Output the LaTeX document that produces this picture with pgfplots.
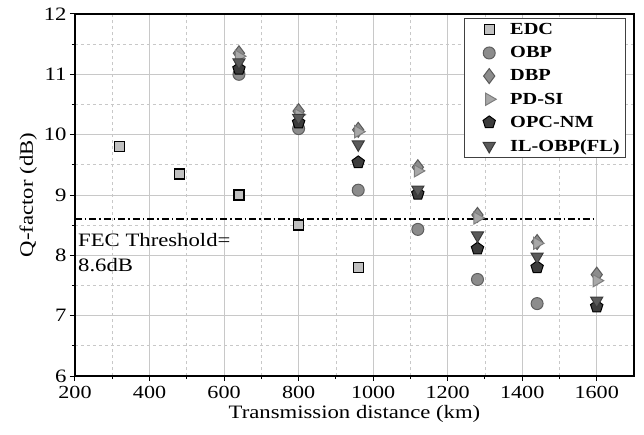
\documentclass[border=0pt]{standalone}
\usepackage{fontspec}
\setmainfont{Liberation Serif}[FakeStretch=1.2]
\usepackage{pgfplots}
\pgfplotsset{compat=1.18}
\definecolor{edcfill}{HTML}{C0C0C0}
\definecolor{obpfill}{HTML}{8C8C8C}
\definecolor{obpdraw}{HTML}{5E5E5E}
\definecolor{dbpfill}{HTML}{8C8C8C}
\definecolor{dbpdraw}{HTML}{5A5A5A}
\definecolor{pdfill}{HTML}{A8A8A8}
\definecolor{pddraw}{HTML}{7E7E7E}
\definecolor{opcfill}{HTML}{3C3C3C}
\definecolor{ilfill}{HTML}{5A5A5A}
\definecolor{ildraw}{HTML}{3A3A3A}
\definecolor{gridc}{HTML}{C8C8C8}
\begin{document}
\begin{tikzpicture}
\begin{axis}[
  scale only axis, width=559bp, height=362bp,
  xmin=200, xmax=1700, ymin=6, ymax=12,
  xtick={200,400,...,1600}, ytick={6,7,...,12},
  minor x tick num=1, minor y tick num=1,
  grid=both,
  major grid style={solid, gridc, line width=0.9bp},
  minor grid style={dashed, gridc, line width=0.7bp},
  axis line style={line width=1.3bp},
  tick style={black, line width=1bp},
  tick align=outside, major tick length=5bp, minor tick length=3bp,
  xtick pos=left, ytick pos=left,
  /pgf/number format/assume math mode=true,
  /pgf/number format/1000 sep={},
  xticklabel style={font=\fontsize{18.5}{18.5}\selectfont, yshift=-1.5bp},
  yticklabel style={font=\fontsize{19}{19}\selectfont},
  label style={font=\fontsize{19}{19}\selectfont},
  xlabel={Transmission distance (km)},
  ylabel={Q-factor (dB)},
  legend style={at={(axis description cs:0.986,0.989)}, anchor=north east,
    draw=black!75, line width=0.9bp, fill=white,
    font=\fontsize{17}{17}\selectfont\bfseries,
    row sep=6.5bp, inner xsep=4bp, inner ysep=3bp},
  legend cell align=left,
  mylegend/.style={legend image code/.code={%
    \path[draw=none, fill=none] (0bp,0bp) rectangle (40bp,0.1bp);
    \draw[##1, draw=none] plot coordinates {(21bp,0bp)};}},
]
\addplot[only marks, mylegend, mark=square*, mark size=5bp, mark options={fill=edcfill, draw=black, line width=1.4bp}]
  coordinates {(320,9.8) (480,9.35) (640,9.0) (800,8.5) (960,7.8)};
\addlegendentry{EDC}
\addplot[only marks, mylegend, mark=*, mark size=6bp, mark options={fill=obpfill, draw=obpdraw, line width=1bp}]
  coordinates {(640,11.0) (800,10.1) (960,9.08) (1120,8.43) (1280,7.6) (1440,7.2)};
\addlegendentry{OBP}
\addplot[only marks, mylegend, mark=diamond*, mark size=7.5bp, mark options={fill=dbpfill, draw=dbpdraw, line width=1bp}]
  coordinates {(640,11.35) (800,10.39) (960,10.08) (1120,9.46) (1280,8.67) (1440,8.22) (1600,7.68)};
\addlegendentry{DBP}
\addplot[only marks, mylegend, mark=triangle*, mark size=7bp, mark options={rotate=-90, fill=pdfill, draw=pddraw, line width=1bp}]
  coordinates {(640,11.3) (800,10.33) (960,10.05) (1120,9.4) (1280,8.62) (1440,8.2) (1600,7.58)};
\addlegendentry{PD-SI}
\addplot[only marks, mylegend, mark=pentagon*, mark size=6.5bp, mark options={fill=opcfill, draw=black, line width=1bp}]
  coordinates {(640,11.09) (800,10.2) (960,9.54) (1120,9.02) (1280,8.11) (1440,7.8) (1600,7.15)};
\addlegendentry{OPC-NM}
\addplot[only marks, mylegend, mark=triangle*, mark size=7bp, mark options={rotate=180, fill=ilfill, draw=ildraw, line width=1bp}]
  coordinates {(640,11.2) (800,10.28) (960,9.84) (1120,9.09) (1280,8.33) (1440,7.98) (1600,7.25)};
\addlegendentry{IL-OBP(FL)}
\addplot[sharp plot, black, line width=1.3bp, dash pattern=on 7bp off 3bp on 1.5bp off 3bp, no marks, forget plot]
  coordinates {(200,8.6) (1600,8.6)};
\node[anchor=north west, align=left, inner sep=0pt, font=\fontsize{19}{25.5}\selectfont]
  at (axis cs:208,8.37) {FEC Threshold=\\8.6dB};
\coordinate (sw) at (rel axis cs:0,0);
\coordinate (ne) at (rel axis cs:1,1);
\end{axis}
\pgfresetboundingbox
\path ([shift={(-75bp,-59bp)}]sw) rectangle ([shift={(10bp,14bp)}]ne);
\end{tikzpicture}
\end{document}
